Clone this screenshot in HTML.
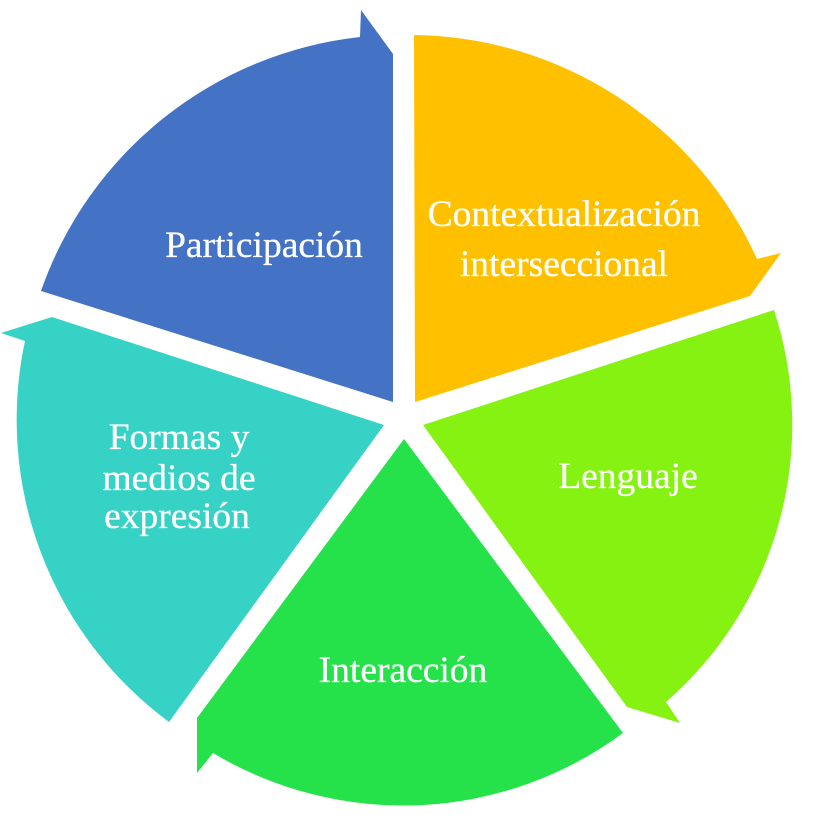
<!DOCTYPE html>
<html><head><meta charset="utf-8"><style>
html,body{margin:0;padding:0;background:#fff}
svg{display:block}
text{font-family:"Liberation Serif",serif;font-size:37.5px;fill:#fff;stroke:#fff;stroke-width:.3;text-anchor:middle}
</style></head><body>
<svg width="814" height="835" viewBox="0 0 814 835" xmlns="http://www.w3.org/2000/svg">
<path fill="#4472C4" d="M361 10L393 54L393 402L41 291A382 382 0 0 1 360 37Z"/>
<path fill="#FFC000" d="M414 35A382 382 0 0 1 757 259L781 253L750 296L415 402Z"/>
<path fill="#86F211" d="M774 310A368 368 0 0 1 666 702L680 723L627 707L423 425Z"/>
<path fill="#25E24A" d="M404 439L623 733A370 370 0 0 1 213 753L197 773L197 718Z"/>
<path fill="#36D2C6" d="M384 425L52 317L1 333L25 341A376 376 0 0 0 169 722Z"/>
<text x="264" y="257">Participación</text>
<text x="564" y="226">Contextualización</text>
<text x="564" y="276">interseccional</text>
<text x="628" y="488">Lenguaje</text>
<text x="403" y="682">Interacción</text>
<text x="179" y="449">Formas y</text>
<text x="179" y="490">medios de</text>
<text x="177" y="528">expresión</text>
</svg>
</body></html>
